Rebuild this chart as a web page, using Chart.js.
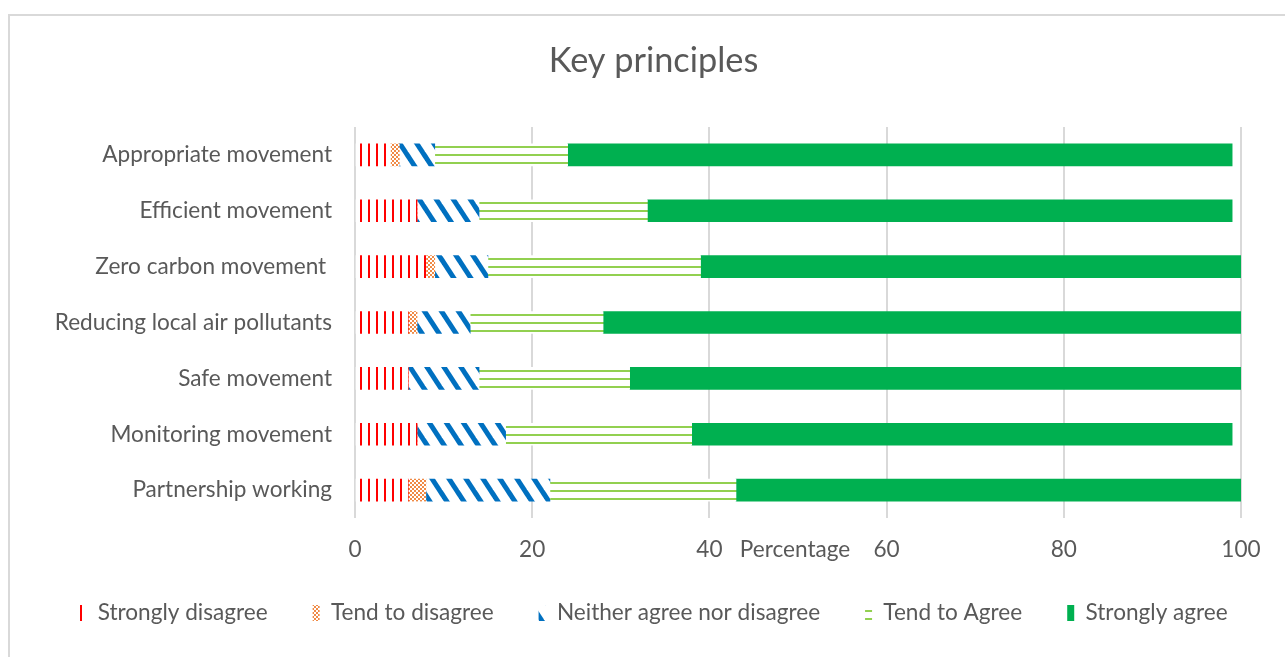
<!DOCTYPE html>
<html>
<head>
<meta charset="utf-8">
<script src="https://cdn.jsdelivr.net/npm/chart.js@4.4.1/dist/chart.umd.min.js"></script>
<style>
    html, body { margin: 0; padding: 0; background: #ffffff; }
    #wrap { width: 1285px; height: 657px; }
</style>
</head>
<body>
<div id="wrap"><canvas id="keyPrinciples" width="1285" height="657"></canvas></div>
<script>
var CATEGORIES = [
    "Appropriate movement",
    "Efficient movement",
    "Zero carbon movement ",
    "Reducing local air pollutants",
    "Safe movement",
    "Monitoring movement",
    "Partnership working",
];

var STRONGLY_DISAGREE = [4, 7, 8, 6, 6, 7, 6];
var TEND_TO_DISAGREE = [1, 0, 1, 1, 0, 0, 2];
var NEITHER = [4, 7, 6, 6, 8, 10, 14];
var TEND_TO_AGREE = [15, 19, 24, 15, 17, 21, 21];
var STRONGLY_AGREE = [75, 66, 61, 72, 69, 61, 57];

var X_TICKS = [0, 20, 40, 60, 80, 100];
var X_TITLE = "Percentage";

var TEXT_COLOR = "#595959";
var GRID_COLOR = "#D9D9D9";
var FONT = "Lato, Carlito, 'Open Sans', sans-serif";
var LABEL_SIZE = 22.6;

function makeTile(w, h, draw) {
    const c = document.createElement("canvas");
    c.width = w;
    c.height = h;
    const g = c.getContext("2d");
    g.fillStyle = "#ffffff";
    g.fillRect(0, 0, w, h);
    draw(g, w, h);
    return document.getElementById("keyPrinciples").getContext("2d").createPattern(c, "repeat");
}

// red light vertical
var PAT_RED = makeTile(8, 8, function (g) {
    g.fillStyle = "#FF0000";
    g.fillRect(0, 0, 2, 8);
});

// orange small checker
var PAT_ORANGE = makeTile(4, 4, function (g) {
    g.fillStyle = "#F08A45";
    g.fillRect(0, 0, 2, 2);
    g.fillRect(2, 2, 2, 2);
});

// blue wide downward diagonal
var PAT_BLUE = makeTile(17, 26, function (g, w, h) {
    g.strokeStyle = "#0070C0";
    g.lineWidth = 5;
    for (let x0 = -w; x0 <= w; x0 += w) {
        g.beginPath();
        g.moveTo(x0 - 2, -3);
        g.lineTo(x0 + w + 2, h + 3);
        g.stroke();
    }
});

// green light horizontal
var PAT_GREEN = makeTile(8, 8, function (g) {
    g.fillStyle = "#92D050";
    g.fillRect(0, 2, 8, 2);
});

const chartBorder = {
    id: "chartBorder",
    beforeDraw(chart) {
        const ctx = chart.ctx;
        ctx.save();
        ctx.fillStyle = "#ffffff";
        ctx.fillRect(0, 0, chart.width, chart.height);
        ctx.strokeStyle = GRID_COLOR;
        ctx.lineWidth = 2;
        ctx.beginPath();
        ctx.moveTo(9, chart.height);
        ctx.lineTo(9, 15);
        ctx.lineTo(chart.width, 15);
        ctx.stroke();
        ctx.restore();
    },
};

// Excel puts the axis title on the same line as the tick labels
const axisTitle = {
    id: "axisTitle",
    afterDraw(chart) {
        const ctx = chart.ctx;
        const area = chart.chartArea;
        ctx.save();
        ctx.fillStyle = TEXT_COLOR;
        ctx.font = LABEL_SIZE + "px " + FONT;
        ctx.textAlign = "center";
        ctx.textBaseline = "middle";
        ctx.fillText(X_TITLE, (area.left + area.right) / 2 - 3, area.bottom + 18 + LABEL_SIZE * 0.6);
        ctx.restore();
    },
};

// legend sits a bit closer to the axis than its padding allows
const legendNudge = {
    id: "legendNudge",
    afterLayout(chart) {
        chart.legend.top -= 4.3;
        chart.legend.bottom -= 4.3;
    },
};

const data = {
    labels: CATEGORIES,
    datasets: [
        { label: "Strongly disagree", data: STRONGLY_DISAGREE, backgroundColor: PAT_RED },
        { label: "Tend to disagree", data: TEND_TO_DISAGREE, backgroundColor: PAT_ORANGE },
        { label: "Neither agree nor disagree", data: NEITHER, backgroundColor: PAT_BLUE },
        { label: "Tend to Agree", data: TEND_TO_AGREE, backgroundColor: PAT_GREEN },
        { label: "Strongly agree", data: STRONGLY_AGREE, backgroundColor: "#00B050" },
    ],
};

const config = {
    type: "bar",
    data: data,
    plugins: [chartBorder, axisTitle, legendNudge],
    options: {
        animation: false,
        responsive: false,
        indexAxis: "y",
        layout: {
            padding: { left: 22, right: 0, top: 0, bottom: 18.4 },
        },
        datasets: {
            bar: { barThickness: 22, borderWidth: 0 },
        },
        plugins: {
            title: {
                display: true,
                text: "Key principles",
                color: TEXT_COLOR,
                font: { family: FONT, size: 34.3, weight: "normal" },
                padding: { top: 40.4, bottom: 45.4 },
            },
            legend: {
                position: "bottom",
                labels: {
                    color: TEXT_COLOR,
                    font: { family: FONT, size: LABEL_SIZE },
                    boxWidth: 7,
                    boxHeight: 16,
                    padding: 45,
                },
            },
            tooltip: { enabled: false },
        },
        scales: {
            x: {
                stacked: true,
                min: 0,
                max: 100,
                afterBuildTicks: function (scale) {
                    scale.ticks = X_TICKS.map(function (v) { return { value: v }; });
                },
                afterFit: function (scale) {
                    scale.height = 43;
                },
                grid: { color: GRID_COLOR, lineWidth: 2, drawTicks: false },
                border: { display: false },
                ticks: {
                    color: TEXT_COLOR,
                    font: { family: FONT, size: LABEL_SIZE },
                    padding: 18,
                },
            },
            y: {
                stacked: true,
                grid: { display: false, drawTicks: false },
                border: { display: false },
                ticks: {
                    color: TEXT_COLOR,
                    font: { family: FONT, size: LABEL_SIZE },
                    padding: 23,
                },
                afterFit: function (scale) {
                    scale.width = 333;
                },
            },
            // empty right-hand margin, keeps the plot area off the right edge
            yRight: {
                type: "category",
                position: "right",
                grid: { display: false, drawTicks: false },
                border: { display: false },
                ticks: { display: false },
                afterFit: function (scale) {
                    scale.width = 44;
                },
            },
        },
    },
};

new Chart(document.getElementById("keyPrinciples"), config);
</script>
</body>
</html>
